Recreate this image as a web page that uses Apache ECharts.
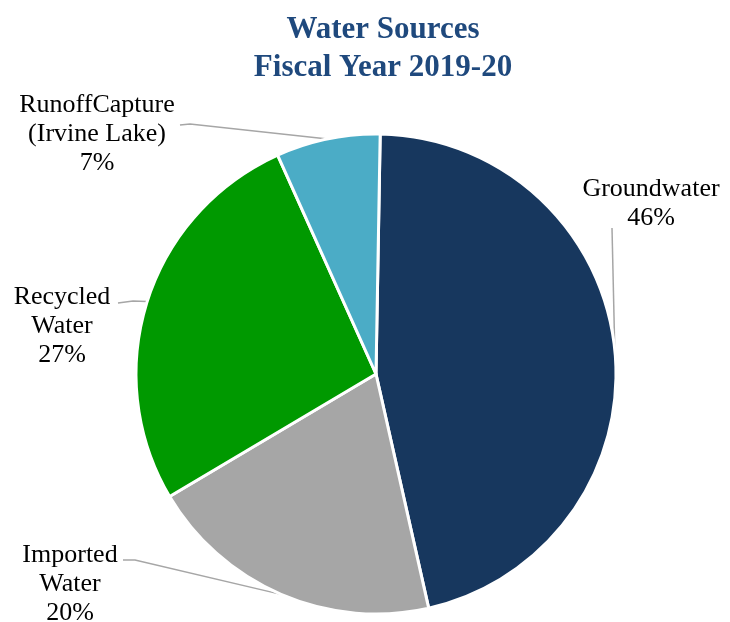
<!DOCTYPE html>
<html>
<head>
<meta charset="utf-8">
<script src="https://cdn.jsdelivr.net/npm/echarts@6/dist/echarts.min.js"></script>
<style>html,body{margin:0;padding:0;background:#fff;}#c{width:730px;height:622px;}</style>
</head>
<body>
<div id="c"></div>
<script>
var categories = ['Groundwater', 'Imported\nWater', 'Recycled\nWater', 'RunoffCapture\n(Irvine Lake)'];
var values = [46.2, 20.0, 26.8, 7.0];
var colors = ['#17375E', '#A6A6A6', '#009900', '#4BACC6'];
// label anchor (text center x, top y) and label-line elbow / end points
var labelPos = [[651, 175], [70, 541], [62, 283], [97, 91]];
var lineElbow = [[612, 228], [135, 560], [133, 301], [190, 124]];
var lineEnd = [[612, 228], [123, 560], [118, 303], [180, 125]];

var chart = echarts.init(document.getElementById('c'), null, {renderer: 'canvas'});
chart.setOption({
  animation: false,
  title: {
    text: 'Water Sources\nFiscal Year 2019-20',
    left: 378, top: 6, textAlign: 'center',
    textStyle: {fontFamily: 'Liberation Serif', fontWeight: 'bold', fontSize: 31, lineHeight: 38, color: '#1F497D'}
  },
  series: [{
    type: 'pie',
    center: [376, 374],
    radius: 240,
    startAngle: 89,
    clockwise: true,
    itemStyle: {borderColor: '#fff', borderWidth: 3},
    label: {
      show: true,
      overflow: 'none',
      formatter: function (p) { return p.name + '\n' + Math.round(p.value) + '%'; },
      fontFamily: 'Liberation Serif', fontSize: 26, lineHeight: 29, color: '#000',
      align: 'center'
    },
    labelLine: {show: true, lineStyle: {color: '#A6A6A6', width: 1.5}, length: 10, length2: 10},
    labelLayout: function (p) {
      var i = p.dataIndex;
      var pos = labelPos[i];
      var res = {x: pos[0], y: pos[1], align: 'center', verticalAlign: 'top'};
      if (p.labelLinePoints && p.labelLinePoints.length) {
        res.labelLinePoints = [p.labelLinePoints[0].slice(), lineElbow[i], lineEnd[i]];
      }
      return res;
    },
    data: categories.map(function (c, i) {
      return {name: c, value: values[i], itemStyle: {color: colors[i]}};
    })
  }]
});
</script>
</body>
</html>
